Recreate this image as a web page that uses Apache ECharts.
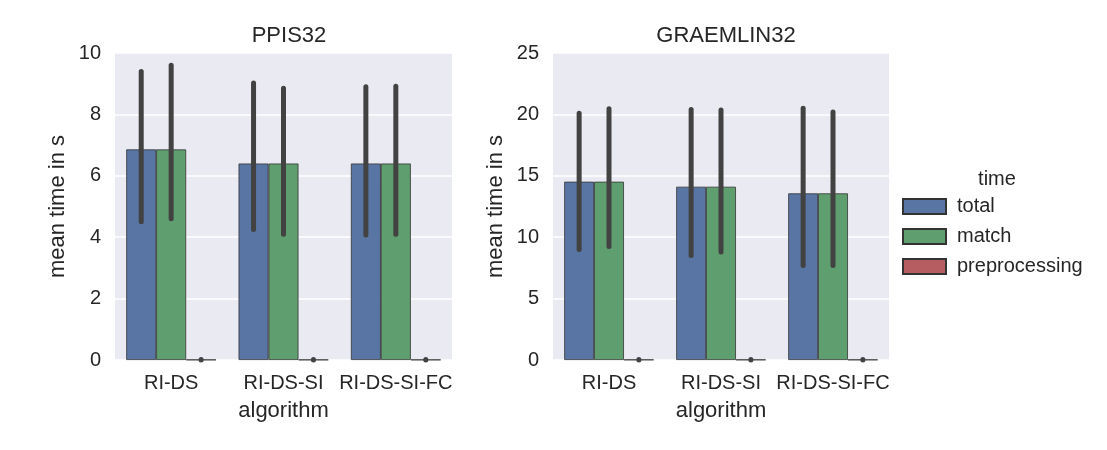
<!DOCTYPE html>
<html>
<head>
<meta charset="utf-8">
<script src="https://cdn.jsdelivr.net/npm/echarts@6/dist/echarts.min.js"></script>
<style>
  html, body { margin: 0; padding: 0; background: #fff; }
  #chart { width: 1107px; height: 450px; }
</style>
</head>
<body>
<div id="chart"></div>
<script>
const categories = ['RI-DS', 'RI-DS-SI', 'RI-DS-SI-FC'];
const hues = ['total', 'match', 'preprocessing'];
const colors = ['#5875A4', '#5F9E6E', '#B55D60'];

// PPIS32 mean times and confidence intervals
const ppisTotal = [6.86, 6.40, 6.40];
const ppisMatch = [6.86, 6.40, 6.40];
const ppisPre = [0.01, 0.01, 0.01];
const ppisTotalCi = [[4.5, 9.4], [4.25, 9.02], [4.07, 8.9]];
const ppisMatchCi = [[4.6, 9.6], [4.1, 8.85], [4.1, 8.92]];
const ppisPreCi = [[0, 0.02], [0, 0.02], [0, 0.02]];

// GRAEMLIN32
const graemTotal = [14.52, 14.11, 13.57];
const graemMatch = [14.52, 14.11, 13.57];
const graemPre = [0.03, 0.03, 0.03];
const graemTotalCi = [[9.0, 20.1], [8.5, 20.4], [7.7, 20.5]];
const graemMatchCi = [[9.25, 20.45], [8.8, 20.35], [7.7, 20.2]];
const graemPreCi = [[0, 0.05], [0, 0.05], [0, 0.05]];

const ppisTicks = { min: 0, max: 10, interval: 2 };
const graemTicks = { min: 0, max: 25, interval: 5 };

const txt = '#262626';
const font = 'Liberation Sans, Arial, sans-serif';

const chart = echarts.init(document.getElementById('chart'));

function bars(idx, values) {
  return values.map((v, h) => ({
    name: hues[h],
    type: 'bar',
    xAxisIndex: idx,
    yAxisIndex: idx,
    data: v,
    barGap: 0,
    barCategoryGap: '20%',
    itemStyle: { color: colors[h], borderColor: '#333', borderWidth: 0.8 },
    emphasis: { disabled: true }
  }));
}

function errData(cis) {
  const out = [];
  cis.forEach((ci, h) => ci.forEach((c, i) => out.push([i, h, c[0], c[1]])));
  return out;
}

function errSeries(idx, cis) {
  return {
    type: 'custom',
    xAxisIndex: idx,
    yAxisIndex: idx,
    z: 5,
    silent: true,
    data: errData(cis),
    encode: { x: 0, y: [2, 3] },
    renderItem(params, api) {
      const band = api.size([1, 0])[0];
      const bw = band * 0.8 / 3;
      const off = (api.value(1) - 1) * bw;
      const p1 = api.coord([api.value(0), api.value(2)]);
      const p2 = api.coord([api.value(0), api.value(3)]);
      return {
        type: 'line',
        shape: { x1: p1[0] + off, y1: p1[1], x2: p2[0] + off, y2: p2[1] },
        style: { stroke: '#424242', lineWidth: 5, lineCap: 'round' }
      };
    }
  };
}

function xAx(idx) {
  return {
    type: 'category',
    gridIndex: idx,
    data: categories,
    name: 'algorithm',
    nameLocation: 'middle',
    nameGap: 40,
    nameTextStyle: { fontSize: 22, color: txt, fontFamily: font },
    axisLine: { show: false },
    axisTick: { show: false },
    axisLabel: { fontSize: 20, color: txt, fontFamily: font, margin: 13, interval: 0 }
  };
}

function yAx(idx, t) {
  return {
    type: 'value',
    gridIndex: idx,
    min: t.min,
    max: t.max,
    interval: t.interval,
    name: 'mean time in s',
    nameLocation: 'middle',
    nameRotate: 90,
    nameGap: 46,
    nameTextStyle: { fontSize: 22, color: txt, fontFamily: font },
    axisLine: { show: false },
    axisTick: { show: false },
    axisLabel: { fontSize: 20, color: txt, fontFamily: font, margin: 14 },
    splitLine: { lineStyle: { color: '#ffffff', width: 1.5 } }
  };
}

chart.setOption({
  animation: false,
  backgroundColor: '#ffffff',
  title: [
    { text: 'PPIS32', left: 284, top: 20, textAlign: 'center',
      textStyle: { fontSize: 22, fontWeight: 'normal', color: txt, fontFamily: font } },
    { text: 'GRAEMLIN32', left: 721, top: 20, textAlign: 'center',
      textStyle: { fontSize: 22, fontWeight: 'normal', color: txt, fontFamily: font } },
    { text: 'time', left: 992, top: 164, textAlign: 'center',
      textStyle: { fontSize: 20, fontWeight: 'normal', color: txt, fontFamily: font } }
  ],
  legend: {
    data: hues,
    orient: 'vertical',
    left: 897,
    top: 191,
    itemWidth: 43,
    itemHeight: 15,
    itemGap: 9,
    icon: 'rect',
    selectedMode: false,
    textStyle: { fontSize: 20, color: txt, fontFamily: font, padding: [0, 0, 0, 6], lineHeight: 21 }
  },
  grid: [
    { left: 115, top: 53, width: 337, height: 307, show: true, backgroundColor: '#EAEAF2', borderWidth: 0 },
    { left: 553, top: 53, width: 336, height: 307, show: true, backgroundColor: '#EAEAF2', borderWidth: 0 }
  ],
  xAxis: [xAx(0), xAx(1)],
  yAxis: [yAx(0, ppisTicks), yAx(1, graemTicks)],
  series: [
    ...bars(0, [ppisTotal, ppisMatch, ppisPre]),
    ...bars(1, [graemTotal, graemMatch, graemPre]),
    errSeries(0, [ppisTotalCi, ppisMatchCi, ppisPreCi]),
    errSeries(1, [graemTotalCi, graemMatchCi, graemPreCi])
  ]
});
</script>
</body>
</html>
